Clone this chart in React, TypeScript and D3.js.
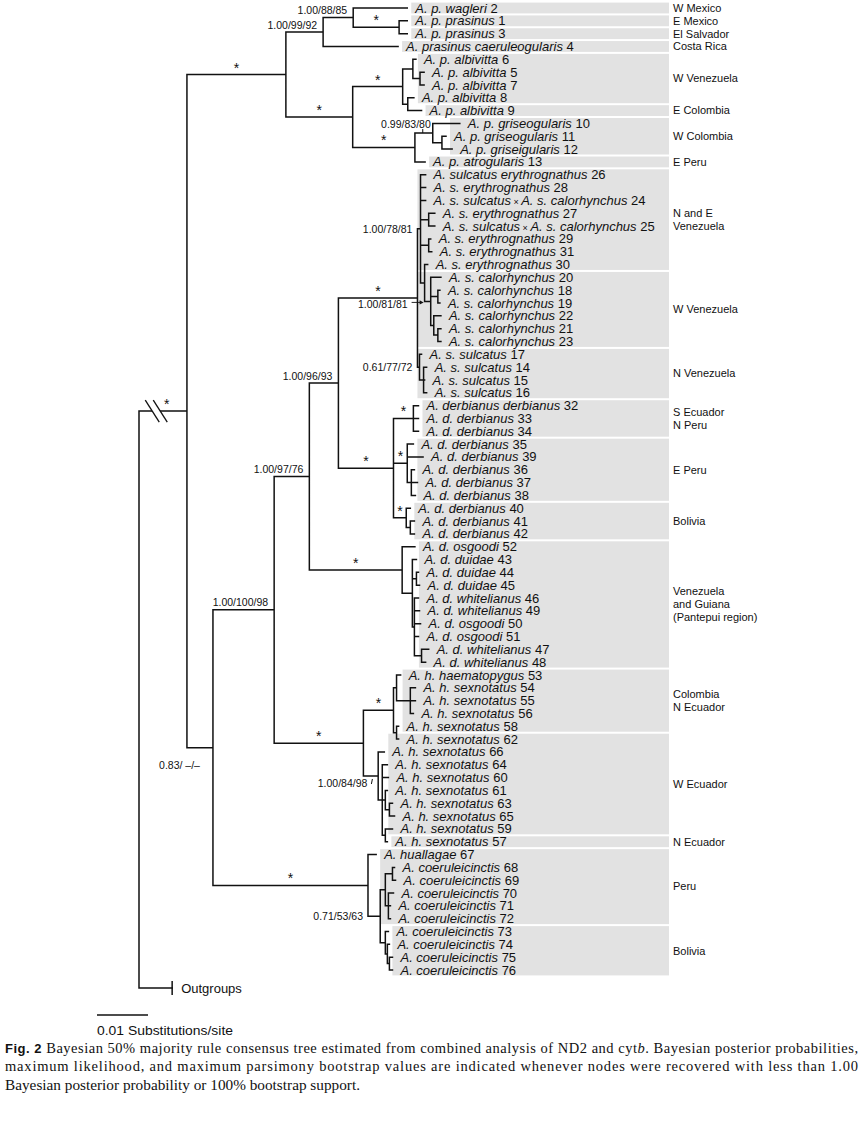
import React from "react";
import * as d3 from "d3";

// ---------- DATA ----------
// Clades written as Newick fragments; branch lengths in substitutions/site.
const CLADE_P1 = "((2:0.0106,(1:0.0016,3:0.0016)P1aa:0.0090)P1a:0.0059,4:0.0147)P1:0.0073";
const CLADE_P2 =
  "(((6:0.0006,(5:0.0008,7:0.0008)n57:0.0014)P2a1:0.0020,(8:0.0012,9:0.0027)P2a2:0.0010)P2a:0.0098," +
  "((10:0.0053,(11:0.0008,12:0.0020)n1112:0.0018)G:0.0035,13:0.0020)P2b:0.0122)P2:0.0131";
const CLADE_S =
  "((26:0.0010,28:0.0010,24:0.0010,(27:0.0012,25:0.0012)n2725:0.0016,(29:0.0004,31:0.0006)n2931:0.0016," +
  "(30:0.0006,(20:0.0020,(18:0.0004,19:0.0004)n1819:0.0014,(22:0.0014,(21:0.0006,23:0.0006)n2123:0.0008)n2223:0.0006)Cal:0.0012)C:0.0008)A:0.0006," +
  "(17:0.0004,(14:0.0006,15:0.0002,16:0.0006)n141516:0.0008)NV:0.0004)S:0.0155";
const CLADE_D =
  "((32:0.0010,33:0.0010,34:0.0010)D1:0.0039,(35:0.0012,39:0.0031,(36:0.0006,37:0.0012,38:0.0008)n363738:0.0008)D2:0.0027," +
  "(40:0.0008,(41:0.0008,42:0.0008)n4142:0.0008)D3:0.0025)D:0.0108";
const CLADE_T =
  "(52:0.0025,(43:0.0008,(44:0.0004,45:0.0006)n4445:0.0008,(46:0.0008,49:0.0010,50:0.0012,51:0.0008,(47:0.0014,48:0.0008)n4748:0.0014)T2:0.0004)T1:0.0020)T:0.0182";
const CLADE_H =
  "(((53:0.0008,(54:0.0010,55:0.0010,56:0.0006)n545556:0.0027)K1:0.0006,(58:0.0004,62:0.0004)K2:0.0006)K:0.0059," +
  "(66:0.0012,(64:0.0010,60:0.0012,(61:0.0004,(63:0.0006,65:0.0010)n6365:0.0008)n616365:0.0006,(59:0.0014,57:0.0004)n5957:0.0006)W1:0.0008)W:0.0029)H:0.0175";
const CLADE_CO =
  "(67:0.0016,(((68:0.0004,69:0.0006)n6869:0.0014,(70:0.0010,71:0.0004,72:0.0004)n707172:0.0006)Pe:0.0010," +
  "(73:0.0006,(74:0.0004,(75:0.0006,76:0.0006)n7576:0.0004)n7476:0.0004)Bo:0.0010)Co1:0.0024)Co:0.0304";

const CLADE_Q1A = "((" + CLADE_S + "," + CLADE_D + ")Q1a1:0.0057," + CLADE_T + ")Q1a:0.0069";
const CLADE_Q = "((" + CLADE_Q1A + "," + CLADE_H + ")Q1:0.0120," + CLADE_CO + ")Q:0.0051";
const CLADE_P = "(" + CLADE_P1 + "," + CLADE_P2 + ")P:0.0194";
const NEWICK = "((" + CLADE_P + "," + CLADE_Q + ")I:0.0094,Outgroups:0.0065)R;";

const TAXON_IDS = [
  "2", "1", "3", "4", "6", "5", "7", "8", "9", "10", "11", "12", "13",
  "26", "28", "24", "27", "25", "29", "31", "30", "20", "18", "19", "22", "21", "23", "17", "14", "15", "16",
  "32", "33", "34", "35", "39", "36", "37", "38", "40", "41", "42",
  "52", "43", "44", "45", "46", "49", "50", "51", "47", "48",
  "53", "54", "55", "56", "58", "62", "66", "64", "60", "61", "63", "65", "59", "57",
  "67", "68", "69", "70", "71", "72", "73", "74", "75", "76",
];
const TAXON_NAMES = [
  "A. p. wagleri", "A. p. prasinus", "A. p. prasinus", "A. prasinus caeruleogularis",
  "A. p. albivitta", "A. p. albivitta", "A. p. albivitta", "A. p. albivitta", "A. p. albivitta",
  "A. p. griseogularis", "A. p. griseogularis", "A. p. griseigularis", "A. p. atrogularis",
  "A. sulcatus erythrognathus", "A. s. erythrognathus", "A. s. sulcatus × A. s. calorhynchus",
  "A. s. erythrognathus", "A. s. sulcatus × A. s. calorhynchus", "A. s. erythrognathus",
  "A. s. erythrognathus", "A. s. erythrognathus",
  "A. s. calorhynchus", "A. s. calorhynchus", "A. s. calorhynchus", "A. s. calorhynchus", "A. s. calorhynchus", "A. s. calorhynchus",
  "A. s. sulcatus", "A. s. sulcatus", "A. s. sulcatus", "A. s. sulcatus",
  "A. derbianus derbianus", "A. d. derbianus", "A. d. derbianus", "A. d. derbianus", "A. d. derbianus",
  "A. d. derbianus", "A. d. derbianus", "A. d. derbianus", "A. d. derbianus", "A. d. derbianus", "A. d. derbianus",
  "A. d. osgoodi", "A. d. duidae", "A. d. duidae", "A. d. duidae", "A. d. whitelianus", "A. d. whitelianus",
  "A. d. osgoodi", "A. d. osgoodi", "A. d. whitelianus", "A. d. whitelianus",
  "A. h. haematopygus", "A. h. sexnotatus", "A. h. sexnotatus", "A. h. sexnotatus", "A. h. sexnotatus",
  "A. h. sexnotatus", "A. h. sexnotatus", "A. h. sexnotatus", "A. h. sexnotatus", "A. h. sexnotatus",
  "A. h. sexnotatus", "A. h. sexnotatus", "A. h. sexnotatus", "A. h. sexnotatus",
  "A. huallagae", "A. coeruleicinctis", "A. coeruleicinctis", "A. coeruleicinctis", "A. coeruleicinctis",
  "A. coeruleicinctis", "A. coeruleicinctis", "A. coeruleicinctis", "A. coeruleicinctis", "A. coeruleicinctis",
];

const REGION_NAMES = [
  ["W Mexico"], ["E Mexico"], ["El Salvador"], ["Costa Rica"], ["W Venezuela"], ["E Colombia"],
  ["W Colombia"], ["E Peru"], ["N and E", "Venezuela"], ["W Venezuela"], ["N Venezuela"],
  ["S Ecuador", "N Peru"], ["E Peru"], ["Bolivia"], ["Venezuela", "and Guiana", "(Pantepui region)"],
  ["Colombia", "N Ecuador"], ["W Ecuador"], ["N Ecuador"], ["Peru"], ["Bolivia"],
];
const REGION_FIRST = ["2", "1", "3", "4", "6", "9", "10", "13", "26", "20", "17", "32", "35", "40", "52", "53", "62", "57", "67", "73"];
const REGION_LAST = ["2", "1", "3", "4", "8", "9", "12", "13", "30", "23", "16", "34", "38", "42", "48", "58", "59", "57", "72", "76"];
const REGION_BOX_FROM = ["", "", "", "", "", "", "", "", "S", "S", "S", "", "", "", "", "", "", "", "", ""];

const SUPPORT_NODES = ["P1a", "P1", "Q1a1", "Q1a", "Q1", "A", "NV", "Co1", "W", "G", "Cal", "Q"];
const SUPPORT_TEXT = [
  "1.00/88/85", "1.00/99/92", "1.00/96/93", "1.00/97/76", "1.00/100/98", "1.00/78/81",
  "0.61/77/72", "0.71/53/63", "1.00/84/98", "0.99/83/80", "1.00/81/81", "0.83/ \u2013/\u2013",
];
const SUPPORT_KIND = ["above", "above", "above", "above", "above", "left", "left", "left", "leftTick", "aboveTick", "arrow", "belowLeft"];

const STAR_NODES = ["I", "P", "P1aa", "P2", "P2a", "P2b", "S", "D", "D1", "D2", "D3", "T", "H", "K", "Co"];

const SCALE_BAR_VALUE = 0.01;
const SCALE_BAR_LABEL = "0.01 Substitutions/site";

// ---------- helpers ----------
type TNode = { name: string; length: number; children?: TNode[] };

function parseNewick(s: string): TNode {
  let i = 0;
  function node(): TNode {
    const n: TNode = { name: "", length: 0, children: [] };
    if (s[i] === "(") {
      i++;
      n.children!.push(node());
      while (s[i] === ",") {
        i++;
        n.children!.push(node());
      }
      i++;
    }
    let name = "";
    while (i < s.length && !",():;".includes(s[i])) name += s[i++];
    n.name = name.trim();
    if (s[i] === ":") {
      i++;
      let num = "";
      while (i < s.length && !",();".includes(s[i])) num += s[i++];
      n.length = parseFloat(num);
    }
    if (!n.children!.length) delete n.children;
    return n;
  }
  return node();
}

const FONT = "'Liberation Sans', Arial, Helvetica, sans-serif";
const SERIF = "'Liberation Serif', 'Times New Roman', serif";

export default function App() {
  const data = parseNewick(NEWICK);
  const root = d3.hierarchy<TNode>(data, (d) => d.children);

  // cumulative depth
  const depth = new Map<any, number>();
  root.eachBefore((n) => {
    depth.set(n, n.parent ? (depth.get(n.parent) as number) + n.data.length : 0);
  });

  const x = d3.scaleLinear().domain([0, 0.01]).range([139, 190]);
  const ingroup = root.leaves().filter((l) => l.data.name !== "Outgroups").map((l) => l.data.name);
  const yLeaf = d3.scalePoint<string>().domain(ingroup).range([8, 970]);
  const step = yLeaf.step();

  const ypos = new Map<any, number>();
  root.eachAfter((n) => {
    if (!n.children) {
      if (n.data.name === "Outgroups") ypos.set(n, (yLeaf(ingroup[ingroup.length - 1]) as number) + step * 1.4);
      else ypos.set(n, yLeaf(n.data.name) as number);
    } else {
      const c = n.children;
      ypos.set(n, ((ypos.get(c[0]) as number) + (ypos.get(c[c.length - 1]) as number)) / 2);
    }
  });

  const byName = new Map<string, any>();
  root.each((n) => byName.set(n.data.name, n));
  const X = (n: any) => x(depth.get(n) as number);
  const Y = (n: any) => ypos.get(n) as number;

  // branches
  let path = "";
  root.each((n) => {
    if (n.parent) path += `M${X(n.parent)},${Y(n)}H${X(n)}`;
    if (n.children) path += `M${X(n)},${Y(n.children[0])}V${Y(n.children[n.children.length - 1])}`;
  });

  const labelGap = 8;
  const boxRight = 669;
  const regionX = 673;

  const nameOf = (id: string) => TAXON_NAMES[TAXON_IDS.indexOf(id)];

  // region boxes
  const boxes = REGION_NAMES.map((lines, k) => {
    const i0 = TAXON_IDS.indexOf(REGION_FIRST[k]);
    const i1 = TAXON_IDS.indexOf(REGION_LAST[k]);
    const ids = TAXON_IDS.slice(i0, i1 + 1);
    const minText = d3.min(ids, (id) => X(byName.get(id)) + labelGap) as number;
    const left = REGION_BOX_FROM[k] ? X(byName.get(REGION_BOX_FROM[k])) : minText - 4;
    const top = (yLeaf(REGION_FIRST[k]) as number) - step / 2 + 1;
    const bottom = (yLeaf(REGION_LAST[k]) as number) + step / 2 - 1;
    return { lines, left, top, bottom };
  });

  const rootNode = byName.get("R");
  const iNode = byName.get("I");
  const outNode = byName.get("Outgroups");
  const rx = X(rootNode);
  const ix = X(iNode);
  const iy = Y(iNode);
  const brk = rx + (ix - rx) * 0.36;

  const renderName = (id: string) => {
    const nm = nameOf(id);
    const parts = nm.split(" × ");
    if (parts.length === 2) {
      return (
        <>
          <tspan fontStyle="italic">{parts[0]}</tspan>
          <tspan fontSize={9}>{" \u00d7 "}</tspan>
          <tspan fontStyle="italic">{parts[1]}</tspan>
          <tspan>{" " + id}</tspan>
        </>
      );
    }
    return (
      <>
        <tspan fontStyle="italic">{nm}</tspan>
        <tspan>{" " + id}</tspan>
      </>
    );
  };

  const supports = SUPPORT_NODES.map((nm, k) => {
    const n = byName.get(nm);
    const nx = X(n);
    const ny = Y(n);
    const px = X(n.parent);
    const kind = SUPPORT_KIND[k];
    const t = SUPPORT_TEXT[k];
    const common = { fontSize: 10.5, textAnchor: "end" as const, fill: "#111" };
    if (kind === "above") return <text key={k} x={nx - 6} y={ny - 3.5} {...common}>{t}</text>;
    if (kind === "left") return <text key={k} x={px - 5} y={ny} dy="0.35em" {...common}>{t}</text>;
    if (kind === "aboveTick")
      return (
        <g key={k}>
          <text x={nx - 2} y={ny - 5.5} {...common}>{t}</text>
          <line x1={nx - 10} x2={nx - 10} y1={ny - 4} y2={ny} stroke="#111" strokeWidth={1} />
        </g>
      );
    if (kind === "leftTick")
      return (
        <g key={k}>
          <text x={px + 4} y={ny + 11} {...common}>{t}</text>
          <line x1={px + 9} x2={px + 8} y1={ny + 3} y2={ny + 8} stroke="#111" strokeWidth={1} />
        </g>
      );
    if (kind === "arrow")
      return (
        <g key={k}>
          <text x={px - 17} y={ny + 3} dy="0.35em" {...common}>{t}</text>
          <line x1={px - 13} x2={px - 4} y1={ny + 1} y2={ny + 1} stroke="#111" strokeWidth={0.9} />
          <polygon points={`${px - 1},${ny + 1} ${px - 5},${ny - 1.2} ${px - 5},${ny + 3.2}`} fill="#111" />
        </g>
      );
    // belowLeft
    return <text key={k} x={nx - 13} y={ny + 21} {...common}>{t}</text>;
  });

  const stars = STAR_NODES.map((nm, k) => {
    const n = byName.get(nm);
    const frac = nm === "I" ? 0.58 : 0.5;
    const sx = X(n.parent) + (X(n) - X(n.parent)) * frac;
    return (
      <text key={k} x={sx} y={Y(n) - 2} fontSize={14} textAnchor="middle" fill="#111">*</text>
    );
  });

  const barX0 = 97;
  const barX1 = barX0 + (x(SCALE_BAR_VALUE) - x(0));

  return (
    <svg
      width={866}
      height={1124}
      style={{ position: "absolute", left: 0, top: 0, background: "#fff" }}
      fontFamily={FONT}
    >
      <rect x={0} y={0} width={866} height={1124} fill="#fff" />
      {boxes.map((b, k) => (
        <rect key={k} x={b.left} y={b.top} width={boxRight - b.left} height={b.bottom - b.top} fill="#e2e2e2" />
      ))}
      <path d={path} fill="none" stroke="#111" strokeWidth={1.5} strokeLinecap="square" />
      {/* outgroup end tick */}
      <line x1={X(outNode)} x2={X(outNode)} y1={Y(outNode) - 7} y2={Y(outNode) + 7} stroke="#111" strokeWidth={1.5} />
      <text x={X(outNode) + 9} y={Y(outNode)} dy="0.35em" fontSize={13} fill="#111">Outgroups</text>
      {/* break mark */}
      <polygon points={`${brk - 11},${iy - 11} ${brk - 3},${iy - 11} ${brk + 11},${iy + 11} ${brk + 3},${iy + 11}`} fill="#fff" />
      <line x1={brk - 11} y1={iy - 11} x2={brk + 3} y2={iy + 11} stroke="#111" strokeWidth={1.3} />
      <line x1={brk - 3} y1={iy - 11} x2={brk + 11} y2={iy + 11} stroke="#111" strokeWidth={1.3} />
      {stars}
      {supports}
      {TAXON_IDS.map((id) => {
        const n = byName.get(id);
        return (
          <text key={id} x={X(n) + labelGap} y={Y(n)} dy="0.35em" fontSize={13} fill="#111">
            {renderName(id)}
          </text>
        );
      })}
      {boxes.map((b, k) => {
        const cy = (b.top + b.bottom) / 2;
        return (
          <text key={"r" + k} x={regionX} fontSize={11} fill="#111">
            {b.lines.map((ln, j) => (
              <tspan key={j} x={regionX} y={cy + (j - (b.lines.length - 1) / 2) * 13} dy="0.35em">
                {ln}
              </tspan>
            ))}
          </text>
        );
      })}
      {/* scale bar */}
      <line x1={barX0} x2={barX1} y1={1015} y2={1015} stroke="#111" strokeWidth={1.4} />
      <text x={barX0} y={1035} fontSize={13.5} fill="#111" textLength={136} lengthAdjust="spacingAndGlyphs">
        {SCALE_BAR_LABEL}
      </text>
      {/* caption */}
      <g fontFamily={SERIF} fontSize={14.5} fill="#111">
        <text x={5} y={1053} textLength={853} lengthAdjust="spacing">
          <tspan fontFamily={FONT} fontWeight="bold" fontSize={13}>Fig. 2</tspan>
          <tspan>{" Bayesian 50% majority rule consensus tree estimated from combined analysis of ND2 and cyt"}</tspan>
          <tspan fontStyle="italic">b</tspan>
          <tspan>{". Bayesian posterior probabilities,"}</tspan>
        </text>
        <text x={5} y={1071} textLength={853} lengthAdjust="spacing">
          maximum likelihood, and maximum parsimony bootstrap values are indicated whenever nodes were recovered with less than 1.00
        </text>
        <text x={5} y={1090} textLength={355} lengthAdjust="spacingAndGlyphs">
          Bayesian posterior probability or 100% bootstrap support.
        </text>
      </g>
    </svg>
  );
}
